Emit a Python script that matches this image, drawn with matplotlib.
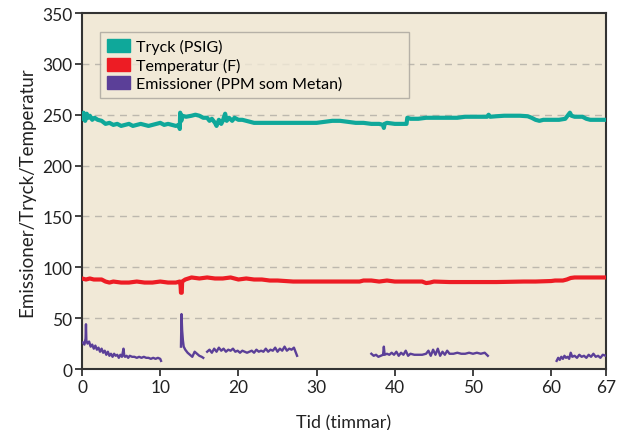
import matplotlib.pyplot as plt
import numpy as np

# Tryck (PSIG)
tryck_t = [0, 0.2, 0.4, 0.6, 0.8, 1.0, 1.3, 1.6, 2.0, 2.5, 3.0, 3.5, 4.0, 4.5, 5.0, 5.5,
           6.0, 6.5, 7.0, 7.5, 8.0, 8.5, 9.0, 9.5, 10.0, 10.5, 11.0, 11.5, 12.0, 12.4,
           12.5, 12.55, 12.7, 12.8, 13.3, 14.0, 14.5, 15.0, 15.5, 16.0, 16.3, 16.6, 17.0,
           17.2, 17.5, 17.8, 18.0, 18.3, 18.5, 18.8, 19.2, 19.5, 20.0, 20.5, 21.0, 21.5,
           22.0, 23.0, 24.0, 25.0, 26.0, 27.0, 28.0, 29.0, 30.0, 31.0, 32.0, 33.0, 34.0,
           35.0, 36.0, 37.0, 38.0, 38.5, 38.6, 38.7, 39.0, 40.0, 41.0, 41.5, 41.6, 42.0,
           43.0, 44.0, 45.0, 46.0, 47.0, 48.0, 49.0, 50.0, 51.0, 51.8, 52.0, 52.2, 53.0,
           54.0, 55.0, 56.0, 57.0, 57.5, 58.0, 58.5, 59.0, 60.0, 61.0, 61.8, 62.2, 62.4,
           62.6, 63.0, 64.0, 64.5, 65.0, 66.0, 67.0]
tryck_v = [246, 252, 244, 251, 247, 249, 245, 247, 245, 244, 241, 242, 240, 241, 239, 240,
           241, 239, 240, 241, 240, 239, 240, 241, 242, 240, 241, 240, 239, 240,
           236, 252, 244, 249, 248, 249, 250, 249, 247, 247, 244, 246, 242,
           239, 245, 241, 244, 251, 244, 247, 244, 247, 245, 245, 244, 243,
           242, 242, 242, 242, 242, 242, 242, 242, 242, 243, 244, 244, 243,
           242, 242, 241, 241, 240, 237, 241, 242, 241, 241, 241, 247, 246,
           246, 247, 247, 247, 247, 247, 248, 248, 248, 248, 250, 248, 248.5,
           249, 249, 249, 248.5, 247, 245, 244, 245, 245, 245, 246, 250, 252,
           249, 248, 248, 246, 245, 245, 245]

# Temperatur (F)
temp_t = [0, 0.5, 1, 1.5, 2, 2.5, 3, 3.5, 4, 5, 6, 7, 8, 9, 10, 11, 12, 12.5, 12.6, 12.65,
          12.75, 12.8, 13.2, 14, 15, 16, 17, 18, 19, 20, 21, 22, 23, 24, 25, 26, 27, 28,
          30, 32, 34, 35.5, 36, 37, 38, 39, 40, 41, 42, 43.5, 44, 44.5, 45, 47, 50, 53,
          56.5, 58, 60, 60.5, 61.5, 62, 62.5, 63, 65, 67]
temp_v = [89, 88, 89, 88, 88, 88, 86, 85, 86, 85, 85, 86, 85, 85, 86, 85, 85, 86, 82, 75,
          75, 86, 88, 90, 89, 90, 89, 89, 90, 88, 89, 88, 88, 87, 87, 86.5, 86, 86,
          86, 86, 86, 86, 87, 87, 86, 87, 86, 86, 86, 86, 84.5, 85, 86, 85.5, 85.5, 85.5,
          86, 86, 86.5, 87, 87, 88, 89.5, 90, 90, 90]

# Emissioner (PPM som Metan) - logged in separate segments
em1_t = [0.1, 0.3, 0.45, 0.5, 0.55, 0.7, 0.9, 1.1, 1.3, 1.5, 1.7, 1.9, 2.1, 2.3, 2.5, 2.7,
         2.9, 3.1, 3.3, 3.5, 3.7, 3.9, 4.1, 4.3, 4.5, 4.7, 4.9, 5.1, 5.3, 5.4, 5.5, 5.7,
         5.9, 6.1, 6.4, 6.7, 7.0, 7.3, 7.6, 7.9, 8.2, 8.5, 8.8, 9.1, 9.4, 9.7, 10.0, 10.1]
em1_v = [26, 24, 30, 44, 28, 25, 27, 22, 24, 20, 23, 19, 21, 17, 20, 16,
         18, 14, 17, 13, 15, 12, 15, 13, 14, 11, 14, 12, 20, 13, 12, 13,
         11, 13, 12, 12, 11, 12, 11, 12, 11, 11, 10, 11, 10, 11, 10, 8]
em2_t = [12.65, 12.72, 12.8, 12.9, 13.0, 13.2, 13.5, 13.8, 14.1, 14.4, 14.7, 15.0, 15.3, 15.5]
em2_v = [22, 54, 38, 28, 22, 19, 16, 14, 12, 17, 15, 13, 12, 11]
em3_t = [16.0, 16.3, 16.6, 16.9, 17.2, 17.5, 17.8, 18.1, 18.4, 18.7, 19.0, 19.3, 19.6, 19.9,
         20.2, 20.5, 20.8, 21.1, 21.4, 21.7, 22.0, 22.3, 22.6, 22.9, 23.2, 23.5, 23.8, 24.1,
         24.4, 24.7, 25.0, 25.3, 25.6, 25.9, 26.2, 26.5, 26.8, 27.1, 27.3, 27.5]
em3_v = [17, 19, 16, 20, 17, 21, 18, 20, 17, 19, 18, 20, 17, 18,
         16, 18, 17, 16, 17, 18, 16, 19, 17, 18, 17, 20, 17, 19,
         18, 21, 17, 20, 18, 22, 18, 20, 19, 21, 17, 13]
em4_t = [37.0, 37.3, 37.6, 37.9, 38.2, 38.5, 38.6, 38.7, 39.0, 39.3, 39.6, 39.9, 40.2, 40.5,
         40.8, 41.1, 41.4, 41.7, 42.0, 42.5, 43.0, 43.5, 44.0, 44.3, 44.6, 44.9, 45.2, 45.5,
         45.8, 46.1, 46.4, 46.7, 47.0, 47.5, 48.0, 48.5, 49.0, 49.5, 50.0, 50.5, 51.0, 51.5, 51.9]
em4_v = [15, 13, 14, 12, 13, 14, 22, 14, 15, 14, 16, 14, 17, 13,
         16, 14, 18, 13, 15, 14, 14, 14, 15, 18, 13, 19, 14, 20,
         13, 17, 14, 18, 15, 15, 16, 15, 15, 16, 15, 16, 15, 16, 13]
em5_t = [60.7, 60.9, 61.1, 61.3, 61.5, 61.7, 61.9, 62.1, 62.3, 62.5, 62.7, 63.0, 63.3, 63.6,
         63.9, 64.2, 64.5, 64.8, 65.1, 65.4, 65.7, 66.0, 66.3, 66.6, 67.0]
em5_v = [8, 11, 9, 12, 10, 13, 11, 12, 10, 16, 12, 13, 11, 14,
         12, 13, 11, 14, 12, 15, 12, 13, 11, 14, 13]

labels = ['Tryck (PSIG)', 'Temperatur (F)', 'Emissioner (PPM som Metan)']
colors = ['#0FA89A', '#ED1C24', '#5B3F98']
xticks = [0, 10, 20, 30, 40, 50, 60, 67]
yticks = [0, 50, 100, 150, 200, 250, 300, 350]

plt.rcParams['font.family'] = ['Lato', 'DejaVu Sans']

fig = plt.figure(figsize=(6.17, 4.31), dpi=100)
fig.patch.set_facecolor('white')
ax = fig.add_axes([0.133, 0.1415, 0.849, 0.826])
ax.set_facecolor('#F1E9D7')

# dashed grid
for y in yticks[1:-1]:
    ax.axhline(y, color='#BDB8AE', lw=1.0, ls=(0, (5, 4)), zorder=1)

ax.plot(tryck_t, tryck_v, color=colors[0], lw=3.0, zorder=3)
ax.plot(temp_t, temp_v, color=colors[1], lw=3.0, zorder=3)
for et, ev in [(em1_t, em1_v), (em2_t, em2_v), (em3_t, em3_v), (em4_t, em4_v), (em5_t, em5_v)]:
    ax.plot(et, ev, color=colors[2], lw=1.7, zorder=3)

ax.set_xlim(0, 67)
ax.set_ylim(0, 350)
ax.set_xticks(xticks)
ax.set_yticks(yticks)
ax.tick_params(axis='both', direction='out', length=5, width=1.3, color='#333333',
               labelsize=12.5, labelcolor='#222222', pad=2)
for s in ax.spines.values():
    s.set_color('#333333')
    s.set_linewidth(1.5)

ax.set_xlabel('Tid (timmar)', fontsize=13, color='#222222', labelpad=14)
ax.set_ylabel('Emissioner/Tryck/Temperatur', fontsize=13.5, color='#222222', labelpad=5)

handles = [plt.Rectangle((0, 0), 1, 1, color=c) for c in colors]
leg = ax.legend(handles, labels, loc='upper left', bbox_to_anchor=(0.034, 0.76, 0.59, 0.187),
                mode='expand', borderaxespad=0, fontsize=11.5, frameon=True, fancybox=False,
                handlelength=1.45, handleheight=0.85, handletextpad=0.35, labelspacing=0.22,
                borderpad=0.45)
leg.get_frame().set_facecolor('#F1E9D7')
leg.get_frame().set_edgecolor('#A8A49C')
leg.get_frame().set_linewidth(1.0)

fig.savefig('out.png', dpi=100)
